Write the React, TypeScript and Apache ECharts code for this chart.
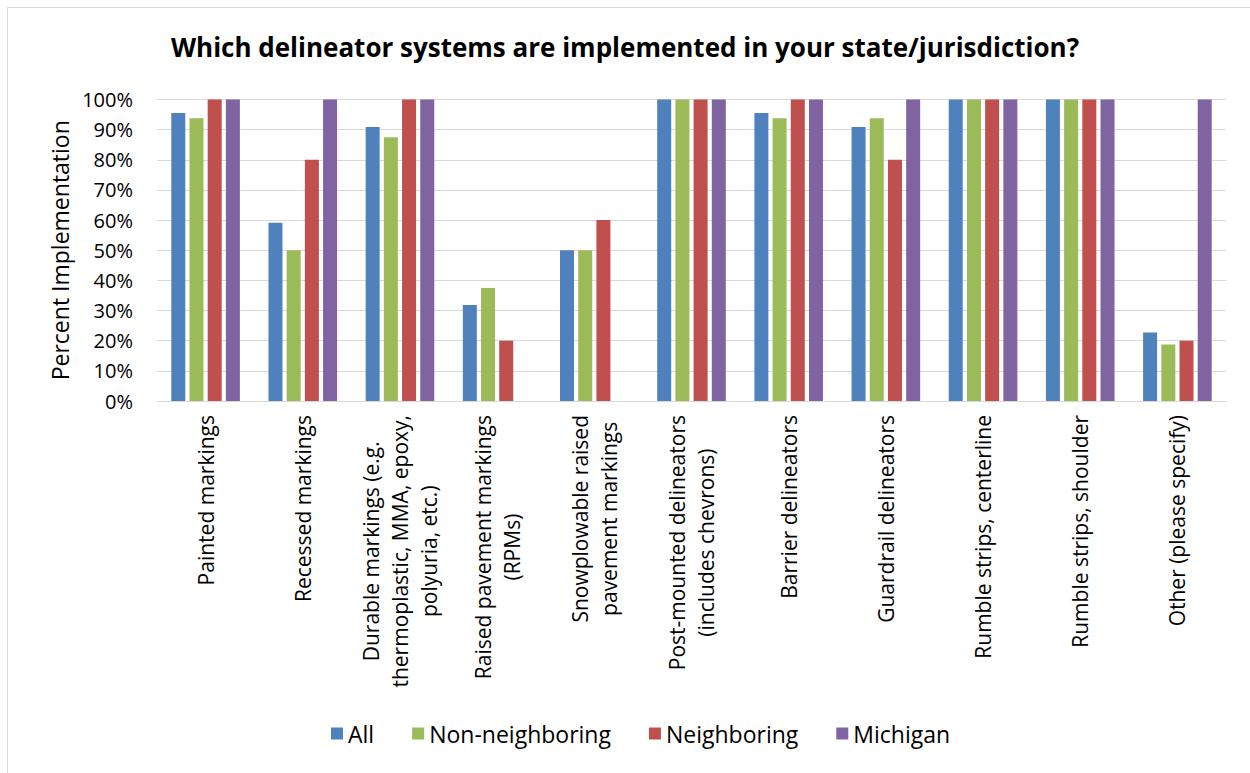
import React, { useEffect, useRef } from "react";
import * as echarts from "echarts";

const titleText = "Which delineator systems are implemented in your state/jurisdiction?";
const yAxisName = "Percent Implementation";

const categories = [
  "Painted markings",
  "Recessed markings",
  "Durable markings (e.g.\nthermoplastic, MMA, epoxy,\npolyuria, etc.)",
  "Raised pavement markings\n(RPMs)",
  "Snowplowable raised\npavement markings",
  "Post-mounted delineators\n(includes chevrons)",
  "Barrier delineators",
  "Guardrail delineators",
  "Rumble strips, centerline",
  "Rumble strips, shoulder",
  "Other (please specify)",
];

const seriesNames = ["All", "Non-neighboring", "Neighboring", "Michigan"];
const allValues = [95.5, 59.1, 90.9, 31.8, 50, 100, 95.5, 90.9, 100, 100, 22.7];
const nonNeighboringValues = [93.75, 50, 87.5, 37.5, 50, 100, 93.75, 93.75, 100, 100, 18.75];
const neighboringValues = [100, 80, 100, 20, 60, 100, 100, 80, 100, 100, 20];
const michiganValues = [100, 100, 100, 0, 0, 100, 100, 100, 100, 100, 100];
const seriesColors = ["#4F81BD", "#9BBB59", "#C0504D", "#8064A2"];

const FONT = "'Open Sans', 'Noto Sans', sans-serif";

export default function App() {
  const ref = useRef<HTMLDivElement>(null);
  useEffect(() => {
    const chart = echarts.init(ref.current!, null, { renderer: "svg" });
    const valueSets = [allValues, nonNeighboringValues, neighboringValues, michiganValues];
    chart.setOption({
      animation: false,
      backgroundColor: "#ffffff",
      textStyle: { fontFamily: FONT },
      graphic: [
        {
          type: "rect",
          shape: { x: 7.5, y: 7.5, width: 1400, height: 900 },
          style: { fill: "none", stroke: "#d9d9d9", lineWidth: 1 },
          silent: true,
        },
      ],
      title: {
        text: titleText,
        left: "center",
        top: 24,
        textStyle: { fontFamily: FONT, fontSize: 26, fontWeight: "bold", color: "#000", lineHeight: 36 },
      },
      legend: {
        data: seriesNames,
        left: 326,
        top: 717,
        itemWidth: 12,
        itemHeight: 12,
        itemGap: 38,
        icon: "rect",
        textStyle: { fontFamily: FONT, fontSize: 23, color: "#000", padding: [0, 0, 0, 0] },
      },
      grid: { left: 157, right: 24, top: 99.5, bottom: 372, containLabel: false },
      xAxis: {
        type: "category",
        data: categories,
        axisTick: { show: false },
        axisLine: { lineStyle: { color: "#d9d9d9", width: 1 } },
        axisLabel: {
          interval: 0,
          rotate: 90,
          margin: 14,
          formatter: (v: string) => v.split("\n").map((l) => `{c|${l}}`).join("\n"),
          rich: {
            c: { align: "center", fontFamily: FONT, fontSize: 21, lineHeight: 29, color: "#000" },
          },
        },
      },
      yAxis: {
        type: "value",
        min: 0,
        max: 100,
        interval: 10,
        name: yAxisName,
        nameLocation: "middle",
        nameGap: 86,
        nameTextStyle: { fontFamily: FONT, fontSize: 23, color: "#000" },
        axisLine: { show: false },
        axisTick: { show: false },
        axisLabel: { formatter: "{value}%", fontFamily: FONT, fontSize: 20, color: "#000", margin: 24 },
        splitLine: { lineStyle: { color: "#d9d9d9", width: 1 } },
      },
      series: seriesNames.map((name, i) => ({
        name,
        type: "bar",
        data: valueSets[i],
        barWidth: 14,
        barGap: "30%",
        itemStyle: { color: seriesColors[i] },
      })),
    });
    return () => chart.dispose();
  }, []);
  return (
    <div
      ref={ref}
      style={{ position: "absolute", left: 0, top: 0, width: 1250, height: 773, background: "#fff" }}
    />
  );
}
